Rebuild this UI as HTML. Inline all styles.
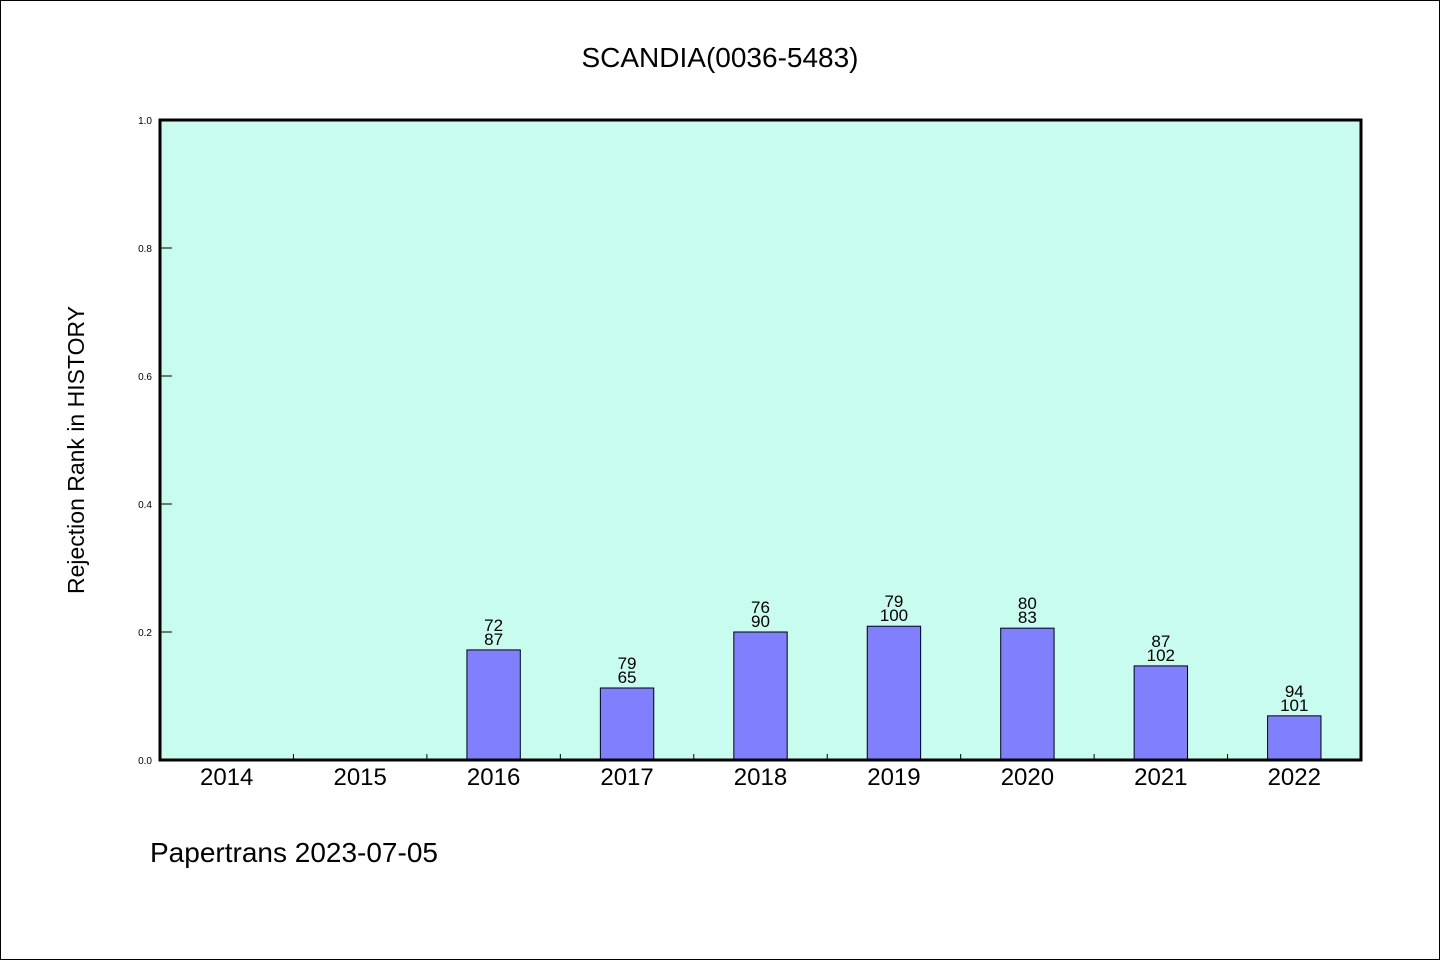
<!DOCTYPE html>
<html><head><meta charset="utf-8"><style>
body{margin:0;background:#fff;}
svg{display:block;font-family:"WenQuanYi Zen Hei","Liberation Sans",sans-serif;}
</style></head><body>
<svg id="chart" width="1440" height="960">
<rect x="0.5" y="0.5" width="1439" height="959" fill="#fff" stroke="#000"/>
<text x="720" y="67" text-anchor="middle" font-size="28">SCANDIA(0036-5483)</text>
<rect x="160" y="120" width="1201" height="640" fill="#c8fcee"/>
<g id="marks"></g>
<rect x="160" y="120" width="1201" height="640" fill="none" stroke="#000" stroke-width="3"/>
<text transform="translate(84,450) rotate(-90)" text-anchor="middle" font-size="23">Rejection Rank in HISTORY</text>
<text x="150" y="862" font-size="28">Papertrans 2023-07-05</text>
</svg>
<script>
const categories=["2014","2015","2016","2017","2018","2019","2020","2021","2022"];
const values=[null,null,0.172,0.1125,0.2,0.209,0.206,0.147,0.069];
const topLabels=["","","72","79","76","79","80","87","94"];
const bottomLabels=["","","87","65","90","100","83","102","101"];
const yTicks=[0,0.2,0.4,0.6,0.8,1.0];
const NS="http://www.w3.org/2000/svg";
const X0=160,W=1201,Y0=760,H=640;
const band=W/categories.length;
const xc=i=>X0+band*(i+0.5);
const y=v=>Y0-v*H;
const g=document.getElementById('marks');
function mk(t,a){const e=document.createElementNS(NS,t);for(const k in a)e.setAttribute(k,a[k]);g.appendChild(e);return e;}
yTicks.forEach(v=>{
 const l=mk('line',{x1:X0,x2:X0+12,y1:y(v),y2:y(v),stroke:'#000'});
 
 
 const t=mk('text',{x:152,y:y(v)+4,'text-anchor':'end','font-size':10});
 t.textContent=v.toFixed(1);
 
 
});
categories.forEach((c,i)=>{
 if(i>0){const l=mk('line',{x1:X0+band*i,x2:X0+band*i,y1:Y0-6,y2:Y0,stroke:'#000'});
 
 }
 const t=mk('text',{x:xc(i),y:Y0+25,'text-anchor':'middle','font-size':24});
 t.textContent=c;
 
 
 const v=values[i];
 if(v!=null){
  const bw=band*0.4;
  const b=mk('rect',{x:xc(i)-bw/2,y:y(v),width:bw,height:v*H,fill:'#8080ff',stroke:'#000','stroke-width':1});
  
  
  const t1=mk('text',{x:xc(i),y:y(v)-19,'text-anchor':'middle','font-size':17});
  t1.textContent=topLabels[i];
  
  
  const t2=mk('text',{x:xc(i),y:y(v)-5,'text-anchor':'middle','font-size':17});
  t2.textContent=bottomLabels[i];
  
  
 }
});
</script>
</body></html>
